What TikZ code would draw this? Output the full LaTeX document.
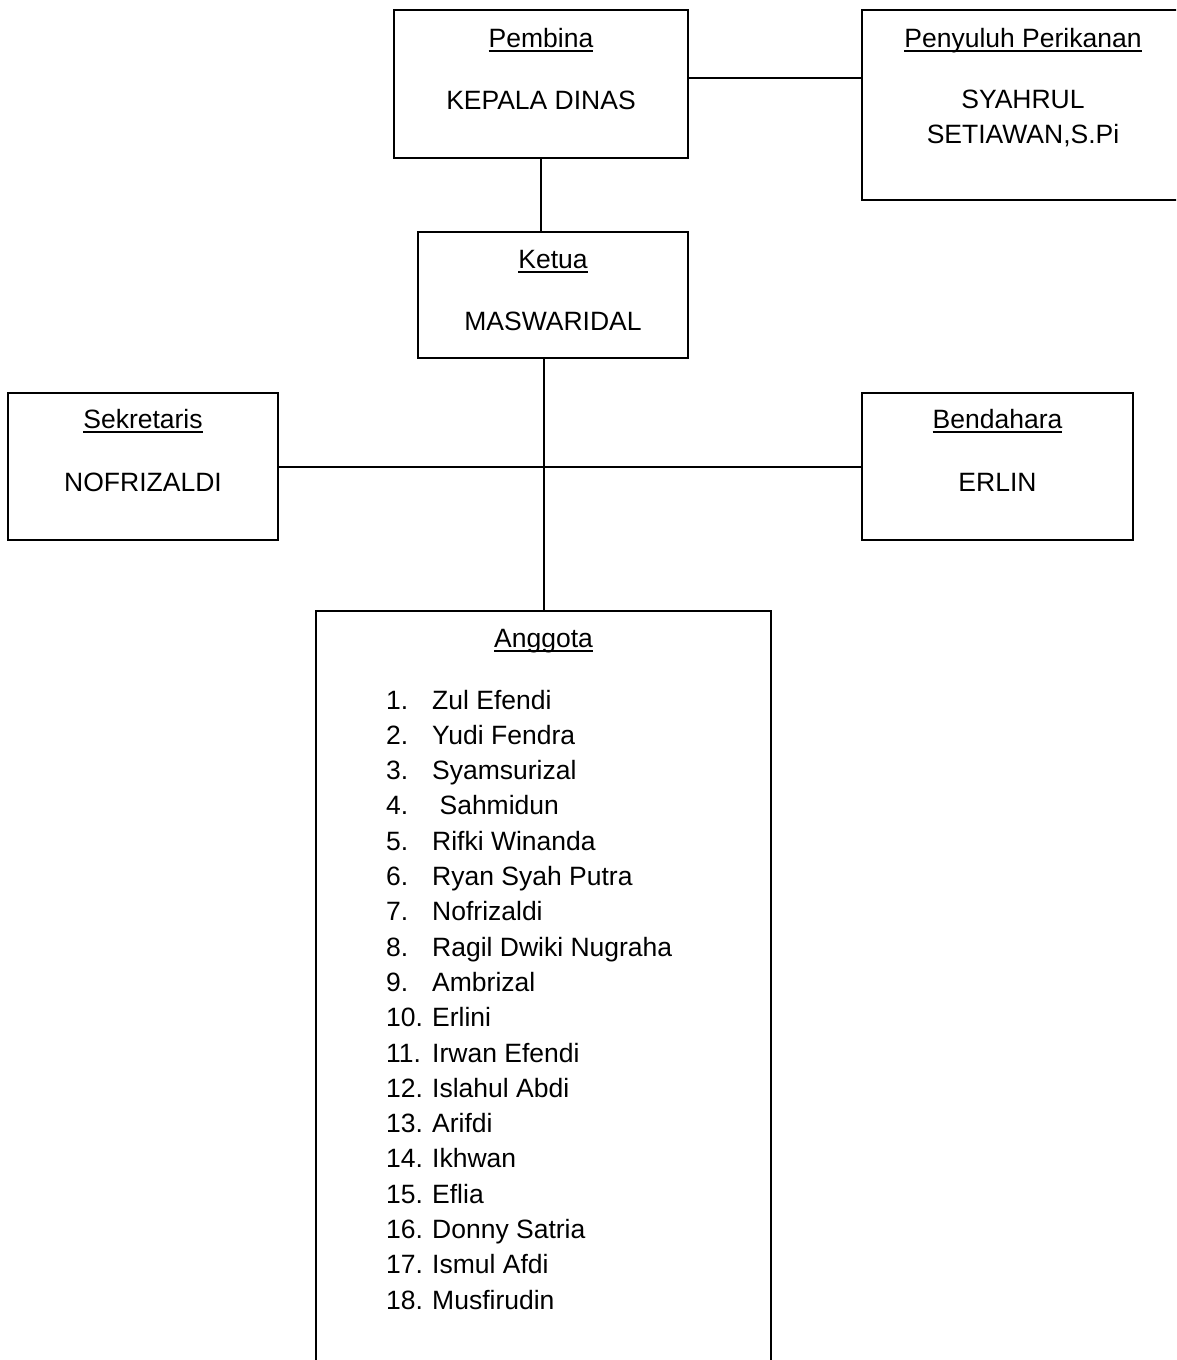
\documentclass[tikz,border=0pt]{standalone}
\usepackage{fontspec}
\setmainfont{Liberation Sans}
\newcommand\ulbl[1]{\setbox0\hbox{#1}\rlap{\rule[-4.5pt]{\wd0}{2pt}}\box0}
\begin{document}
\begin{tikzpicture}[x=1pt,y=-1pt,
  box/.style={draw,line width=2pt,rectangle,inner sep=0pt},
  txt/.style={inner sep=0pt,font=\fontsize{26.5}{35.3}\selectfont},
  link/.style={line width=2pt}]
\useasboundingbox (0,0) rectangle (1176,1360);
\clip (0,0) rectangle (1176,1360);
% boxes
\node[box,minimum width=294,minimum height=148] (pembina) at (541,84) {};
\node[box,minimum width=322,minimum height=190] (penyuluh) at (1023,105) {};
\node[box,minimum width=270,minimum height=126] (ketua) at (553,295) {};
\node[box,minimum width=270,minimum height=147] (sekretaris) at (143,466.5) {};
\node[box,minimum width=271,minimum height=147] (bendahara) at (997.5,466.5) {};
\node[box,minimum width=455,minimum height=800,anchor=north] (anggota) at (543.5,610) {};
% texts
\node[txt,anchor=base] (pembinaT) at (pembina.north |- 0,47) {\ulbl{Pembina}};
\node[txt,anchor=base] (pembinaN) at (pembina.north |- 0,109) {KEPALA DINAS};
\node[txt,anchor=base] (penyuluhT) at (penyuluh.north |- 0,47) {\ulbl{Penyuluh Perikanan}};
\node[txt,anchor=base] (penyuluhN1) at (penyuluh.north |- 0,108) {SYAHRUL};
\node[txt,anchor=base] (penyuluhN2) at (penyuluh.north |- 0,143) {SETIAWAN,S.Pi};
\node[txt,anchor=base] (ketuaT) at (ketua.north |- 0,268) {\ulbl{Ketua}};
\node[txt,anchor=base] (ketuaN) at (ketua.north |- 0,330) {MASWARIDAL};
\node[txt,anchor=base] (sekretarisT) at (sekretaris.north |- 0,428) {\ulbl{Sekretaris}};
\node[txt,anchor=base] (sekretarisN) at (sekretaris.north |- 0,491) {NOFRIZALDI};
\node[txt,anchor=base] (bendaharaT) at (bendahara.north |- 0,428) {\ulbl{Bendahara}};
\node[txt,anchor=base] (bendaharaN) at (bendahara.north |- 0,491) {ERLIN};
\node[txt,anchor=base] (anggotaT) at (anggota.north |- 0,647) {\ulbl{Anggota}};
\foreach \n/\name [count=\k from 0] in {1/Zul Efendi,2/Yudi Fendra,3/Syamsurizal,4/\hspace{7.4pt}Sahmidun,5/Rifki Winanda,6/Ryan Syah Putra,7/Nofrizaldi,8/Ragil Dwiki Nugraha,9/Ambrizal,10/Erlini,11/Irwan Efendi,12/Islahul Abdi,13/Arifdi,14/Ikhwan,15/Eflia,16/Donny Satria,17/Ismul Afdi,18/Musfirudin}{
  \pgfmathsetmacro\yy{709+35.3*\k}
  \node[txt,anchor=base west] (num\n) at (386,\yy) {\n.};
  \node[txt,anchor=base west] (item\n) at (432,\yy) {\name};
}
% connectors
\draw[link] ([yshift=6]pembina.east) -- ([yshift=6]pembina.east -| penyuluh.west);
\draw[link] (pembina.south) -- (pembina.south |- ketua.north);
\draw[link] (sekretaris.east) -- (bendahara.west);
\draw[link] (anggota.north) -- (anggota.north |- ketua.south);
\end{tikzpicture}
\end{document}
